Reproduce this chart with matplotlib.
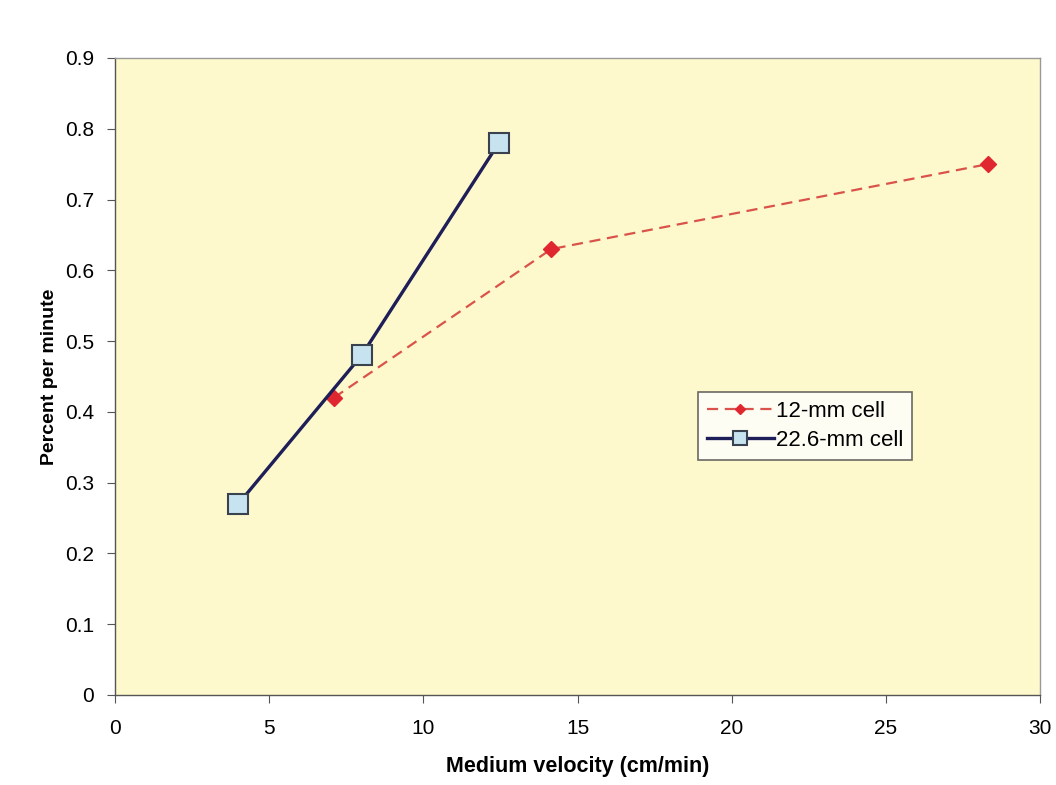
import matplotlib
matplotlib.use("Agg")
import matplotlib.pyplot as plt

x_12mm = [7.1, 14.15, 28.3]
y_12mm = [0.42, 0.63, 0.75]
x_226mm = [4.0, 8.0, 12.45]
y_226mm = [0.27, 0.48, 0.78]
xticks = [0, 5, 10, 15, 20, 25, 30]
yticks = [0, 0.1, 0.2, 0.3, 0.4, 0.5, 0.6, 0.7, 0.8, 0.9]
ytick_labels = ["0", "0.1", "0.2", "0.3", "0.4", "0.5", "0.6", "0.7", "0.8", "0.9"]

plt.rcParams['font.family'] = ['Liberation Sans', 'DejaVu Sans']

fig = plt.figure(figsize=(10.56, 7.85), dpi=100)
ax = fig.add_axes([115/1056, 1 - 695/785, (1040-115)/1056, (695-58)/785])
ax.set_facecolor('#FDF9CC')

ax.plot(x_12mm, y_12mm, linestyle=(0, (5, 3)), color='#D9534A', lw=1.6,
        marker='D', markersize=8, markerfacecolor='#E0262E', markeredgecolor='#E0262E',
        label='12-mm cell', zorder=3)
ax.plot(x_226mm, y_226mm, linestyle='-', color='#1E1E58', lw=2.4,
        marker='s', markersize=14, markerfacecolor='#C8E3F0', markeredgecolor='#3A4250',
        markeredgewidth=1.5, label='22.6-mm cell', zorder=4)

ax.set_xlim(0, 30)
ax.set_ylim(0, 0.9)
ax.set_xticks(xticks)
ax.set_xticklabels([str(t) for t in xticks])
ax.set_yticks(yticks)
ax.set_yticklabels(ytick_labels)
ax.tick_params(axis='both', labelsize=15, direction='out', length=6, color='#555555')
ax.tick_params(axis='x', pad=11)
ax.tick_params(axis='y', pad=9)

for side in ['top', 'right']:
    ax.spines[side].set_color('#999999')
    ax.spines[side].set_linewidth(1.0)
for side in ['left', 'bottom']:
    ax.spines[side].set_color('#555555')
    ax.spines[side].set_linewidth(1.0)

ax.set_xlabel('Medium velocity (cm/min)', fontsize=15.5, fontweight='bold', labelpad=13)
ax.set_ylabel('Percent per minute', fontsize=14, fontweight='bold', labelpad=5)

leg = ax.legend(loc='upper left', bbox_to_anchor=((698-115)/925, (695-392)/637),
                fontsize=16, frameon=True, fancybox=False, handlelength=3.0,
                handletextpad=0.1, borderpad=0.4, labelspacing=0.35, markerscale=0.7,
                borderaxespad=0)
leg.get_frame().set_edgecolor('#444444')
leg.get_frame().set_facecolor('white')
leg.get_frame().set_linewidth(1.2)

fig.savefig('out.png', dpi=100)
